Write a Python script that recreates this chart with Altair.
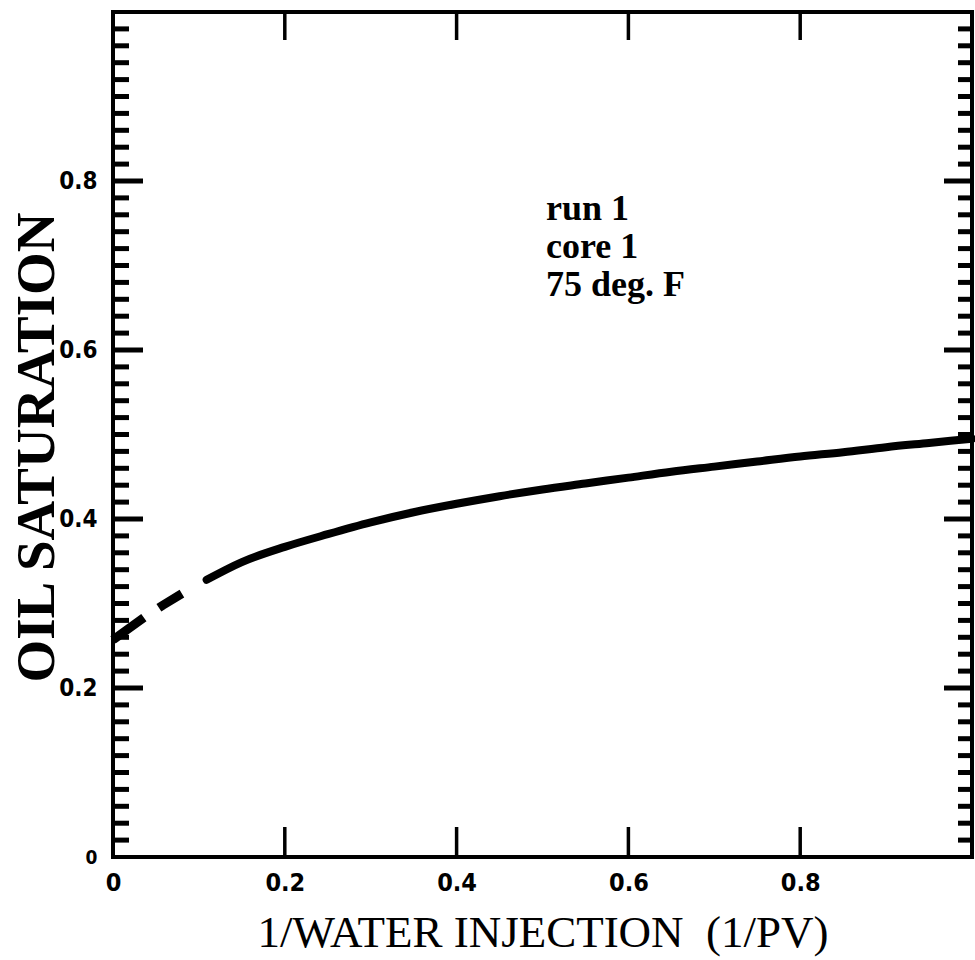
import altair as alt
import pandas as pd

# ---- data ----
dash_x = [0.0, 0.037, 0.058, 0.084, 0.109]
dash_y = [0.257, 0.284, 0.298, 0.314, 0.328]

solid_x = [0.109, 0.15, 0.2, 0.25, 0.3, 0.35, 0.4, 0.45, 0.5, 0.55, 0.6,
           0.65, 0.7, 0.75, 0.8, 0.85, 0.9, 0.95, 1.0]
solid_y = [0.328, 0.349, 0.367, 0.382, 0.396, 0.408, 0.418, 0.427, 0.435,
           0.442, 0.449, 0.456, 0.462, 0.468, 0.474, 0.479, 0.485, 0.490, 0.495]

x_major = [0.2, 0.4, 0.6, 0.8]
x_labels = [0, 0.2, 0.4, 0.6, 0.8]
y_major = [0.2, 0.4, 0.6, 0.8]
y_labels = [0, 0.2, 0.4, 0.6, 0.8]
y_minor = [round(i * 0.02, 2) for i in range(1, 50) if i % 10 != 0]

note_text = ["run 1\ncore 1\n75 deg. F"]
note_x = [0.504]
note_y = [0.754]

x_title = "1/WATER INJECTION\u00a0\u00a0(1/PV)"
y_title = "OIL SATURATION"

W, H = 859, 845
LABEL_FONT = "Liberation Sans Narrow, DejaVu Sans Condensed, Liberation Sans"

xs = alt.Scale(domain=[0, 1], nice=False, zero=False)
ys = alt.Scale(domain=[0, 1], nice=False, zero=False)

dash_df = pd.DataFrame({"x": dash_x, "y": dash_y})
solid_df = pd.DataFrame({"x": solid_x, "y": solid_y})

x_axis = alt.Axis(
    values=x_labels, format="~g",
    domain=False, ticks=False, tickSize=0, grid=False,
    labelFont=LABEL_FONT, labelFontWeight="bold", labelFontSize=25,
    labelColor="black", labelPadding=13, labelFlush=False,
    title=x_title, titleFont="Liberation Serif",
    titleFontWeight="normal", titleFontSize=45, titleColor="black",
    titleX=W / 2, titleY=89, titleAlign="center", titleBaseline="alphabetic",
)
y_axis = alt.Axis(
    values=y_labels, format="~g",
    domain=False, ticks=False, tickSize=0, grid=False,
    labelFont=LABEL_FONT, labelFontWeight="bold",
    labelFontSize=alt.ExprRef(expr="datum.value == 0 ? 19 : 24"),
    labelColor="black", labelPadding=16, labelFlush=False,
    title=y_title, titleFont="Liberation Serif", titleFontWeight="bold",
    titleFontSize=55, titleColor="black", titleAngle=-90,
    titleX=-60, titleY=435, titleAlign="center", titleBaseline="alphabetic",
)

base_x = alt.X("x:Q", scale=xs, axis=x_axis)
base_y = alt.Y("y:Q", scale=ys, axis=y_axis)

solid = alt.Chart(solid_df).mark_line(
    color="black", strokeWidth=8, strokeCap="round", strokeJoin="round",
    interpolate="monotone",
).encode(x=base_x, y=base_y)

dashed = alt.Chart(dash_df).mark_line(
    color="black", strokeWidth=9, strokeCap="butt", strokeDash=[38, 18, 27, 40]
).encode(x=base_x, y=base_y)

ymaj_df = pd.DataFrame({"y": y_major})
ymin_df = pd.DataFrame({"y": y_minor})
xmaj_df = pd.DataFrame({"x": x_major})

def yrule(df, x0, x1, sw):
    return alt.Chart(df).mark_rule(color="black", strokeWidth=sw).encode(
        y=base_y, x=alt.value(x0), x2=alt.value(x1),
    )

def xrule(df, y0, y1, sw):
    return alt.Chart(df).mark_rule(color="black", strokeWidth=sw).encode(
        x=base_x, y=alt.value(y0), y2=alt.value(y1),
    )

ticks = [
    yrule(ymaj_df, 0, 30, 5),
    yrule(ymin_df, 0, 16, 5),
    yrule(ymaj_df, W - 28, W, 5),
    yrule(ymin_df, W - 14, W, 5),
    xrule(xmaj_df, 0, 28, 3.5),
    xrule(xmaj_df, H - 30, H, 3.5),
]

note = alt.Chart(pd.DataFrame({"t": note_text, "x": note_x, "y": note_y})).mark_text(
    font="Liberation Serif", fontWeight="bold", fontSize=36, color="black",
    align="left", baseline="alphabetic", lineBreak="\n", lineHeight=38,
).encode(x=base_x, y=base_y, text="t:N")

chart = alt.layer(solid, dashed, *ticks, note).properties(
    width=W, height=H,
    autosize=alt.AutoSizeParams(type="none"),
    padding={"left": 113, "top": 12, "right": 3, "bottom": 103},
    background="white",
).configure_view(stroke="black", strokeWidth=4)

chart.save("out.html", embed_options={"renderer": "svg", "actions": False})
